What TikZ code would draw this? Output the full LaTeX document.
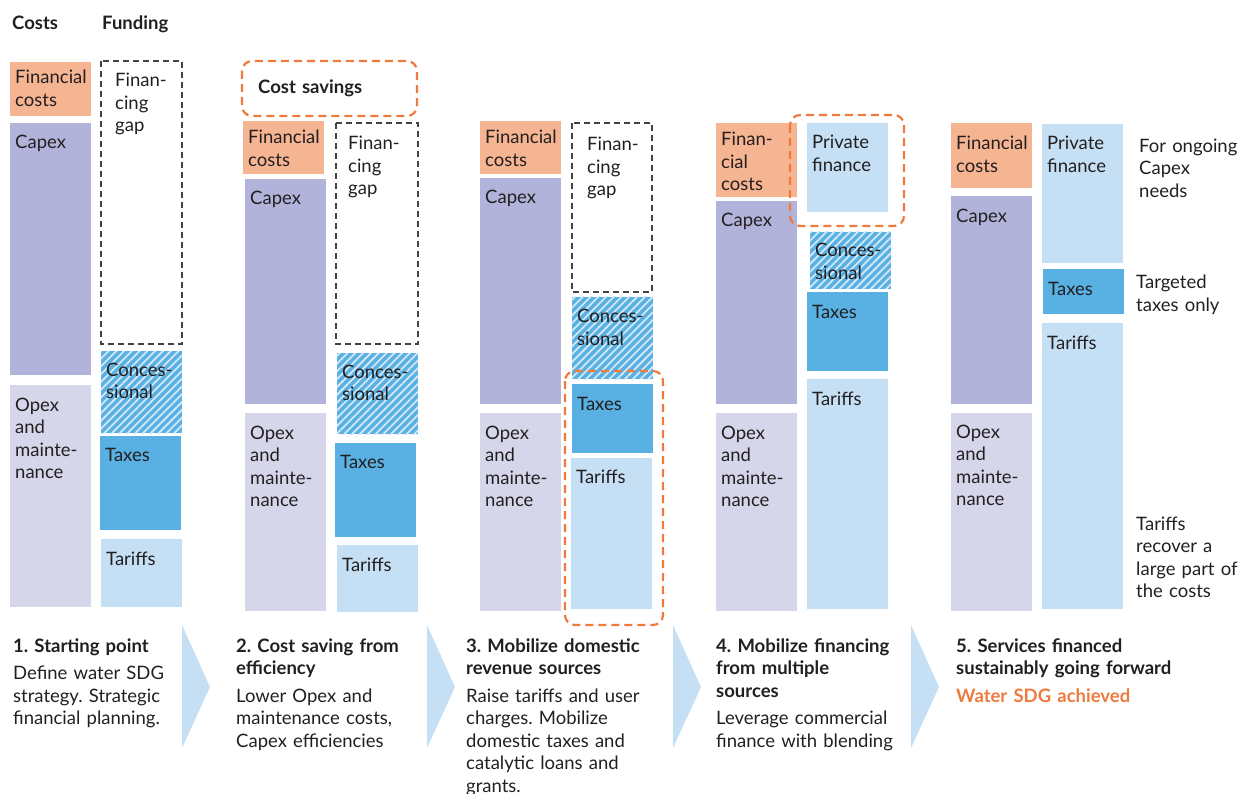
\documentclass[tikz,border=0pt]{standalone}
\usepackage{fontspec}
\setmainfont{Lato}
\usetikzlibrary{patterns.meta,positioning}
\frenchspacing

\definecolor{fincol}{HTML}{F6B592}
\definecolor{capcol}{HTML}{B1B3DA}
\definecolor{opcol}{HTML}{D6D6EB}
\definecolor{taxcol}{HTML}{58B0E3}
\definecolor{tarcol}{HTML}{C5DFF4}
\definecolor{hatchcol}{HTML}{D2E8F7}
\definecolor{savecol}{HTML}{EE7A3E}
\definecolor{inkcol}{HTML}{231F20}

\tikzset{
  lbl/.style={anchor=base west, inner sep=0pt, align=left, text width=80pt, text=inkcol,
    font=\fontsize{18.5}{22.5}\selectfont},
  note/.style={lbl, text width=120pt},
  caption/.style={lbl, text width=240pt},
  gapbox/.style={draw=inkcol!85, line width=1.6pt, dash pattern=on 6pt off 4pt},
  savebox/.style={draw=savecol, line width=2.2pt, dash pattern=on 8pt off 5pt, rounded corners=10pt},
  chevron/.style={fill=tarcol},
  conc/.style={pattern={Lines[angle=45,distance=5.5pt,line width=1.8pt]}, pattern color=hatchcol},
}

% slab: name, colour, x, top, bottom, first baseline, text
\newcommand{\slab}[7]{%
  \fill[#2] (#3,#4) rectangle (#3+81,#5);
  \node[lbl] (#1) at (#3+5,#4+#6) {#7};}
% hatched slab: name, x, top, bottom, first baseline, text
\newcommand{\concslab}[6]{%
  \fill[taxcol] (#2,#3) rectangle (#2+81,#4);
  \path[conc] (#2,#3) rectangle (#2+81,#4);
  \node[lbl] (#1) at (#2+5,#3+#5) {#6};}

\begin{document}
\begin{tikzpicture}[x=1pt,y=-1pt]
\useasboundingbox (0,0) rectangle (1242,794);

\node[lbl] (costs) at (12,29.5) {\textbf{Costs}};
\node[lbl] (funding) at (102,29.5) {\textbf{Funding}};

% 1. starting point
\slab{fin1}{fincol}{10}{62}{116}{22}{Financial\\costs}
\slab{cap1}{capcol}{10}{123}{375}{26}{Capex}
\slab{op1}{opcol}{10}{385}{607}{26}{Opex\\and\\mainte-\\nance}
\draw[gapbox] (101,61) rectangle (182,344);
\node[lbl] (gap1) at (115,87) {Finan-\\cing\\gap};
\concslab{con1}{101}{351}{433}{25}{Conces-\\sional}
\slab{tax1}{taxcol}{100}{436}{530}{25}{Taxes}
\slab{tar1}{tarcol}{101}{539}{607}{26}{Tariffs}

% 2. cost saving
\draw[savebox] (242,61) rectangle (417,116);
\node[lbl, text width=150pt] (save2) at (258,94) {\textbf{Cost savings}};
\slab{fin2}{fincol}{243}{121}{174}{23}{Financial\\costs}
\slab{cap2}{capcol}{245}{179}{404}{26}{Capex}
\slab{op2}{opcol}{245}{413}{611}{26}{Opex\\and\\mainte-\\nance}
\draw[gapbox] (336,123) rectangle (418,344);
\node[lbl] (gap2) at (348,150) {Finan-\\cing\\gap};
\concslab{con2}{337}{353}{434}{25}{Conces-\\sional}
\slab{tax2}{taxcol}{335}{443}{537}{25}{Taxes}
\slab{tar2}{tarcol}{337}{545}{612}{26}{Tariffs}

% 3. domestic revenue
\slab{fin3}{fincol}{480}{121}{174}{23}{Financial\\costs}
\slab{cap3}{capcol}{480}{178}{404}{26}{Capex}
\slab{op3}{opcol}{480}{413}{611}{26}{Opex\\and\\mainte-\\nance}
\draw[gapbox] (572,123) rectangle (652,292);
\node[lbl] (gap3) at (587,151) {Finan-\\cing\\gap};
\concslab{con3}{572}{297}{379}{26}{Conces-\\sional}
\slab{tax3}{taxcol}{572}{384}{453}{26}{Taxes}
\slab{tar3}{tarcol}{571}{458}{609}{25}{Tariffs}
\draw[savebox] (565,371) rectangle (663,625);

% 4. multiple sources
\slab{fin4}{fincol}{716}{123}{197}{23}{Finan-\\cial\\costs}
\slab{cap4}{capcol}{716}{201}{404}{26}{Capex}
\slab{op4}{opcol}{716}{413}{611}{26}{Opex\\and\\mainte-\\nance}
\slab{pf4}{tarcol}{807}{123}{212}{26}{Private\\finance}
\concslab{con4}{810}{232}{289}{25}{Conces-\\sional}
\slab{tax4}{taxcol}{807}{292}{371}{26}{Taxes}
\slab{tar4}{tarcol}{807}{379}{609}{26}{Tariffs}
\draw[savebox] (790,115) rectangle (904,226);

% 5. sustainable
\slab{fin5}{fincol}{951}{123}{188}{27}{Financial\\costs}
\slab{cap5}{capcol}{951}{196}{404}{27}{Capex}
\slab{op5}{opcol}{951}{413}{611}{25}{Opex\\and\\mainte-\\nance}
\slab{pf5}{tarcol}{1042}{124}{263}{26}{Private\\finance}
\slab{tax5}{taxcol}{1043}{269}{314}{26}{Taxes}
\slab{tar5}{tarcol}{1042}{323}{609}{26}{Tariffs}
\node[note] (note1) at (1139,152.5) {For ongoing\\Capex\\needs};
\node[note] (note2) at (1136,289) {Targeted\\taxes only};
\node[note] (note3) at (1136,530) {Tariffs\\recover a\\large part of\\the costs};

% chevrons between steps
\foreach \cx in {182,427,673,911}
  \fill[chevron] (\cx,625) -- (\cx+28,687) -- (\cx,748) -- cycle;

% step captions
\node[caption] (step1) at (13,652) {\textbf{1. Starting point}\\[5pt]
  Define water SDG\\strategy. Strategic\\financial planning.};
\node[caption] (step2) at (236,652) {\textbf{2. Cost saving from}\\\textbf{efficiency}\\[5pt]
  Lower Opex and\\maintenance costs,\\Capex efficiencies};
\node[caption] (step3) at (466,652) {\textbf{3. Mobilize domestic}\\\textbf{revenue sources}\\[5pt]
  Raise tariffs and user\\charges. Mobilize\\domestic taxes and\\catalytic loans and\\grants.};
\node[caption] (step4) at (716,652) {\textbf{4. Mobilize financing}\\\textbf{from multiple}\\\textbf{sources}\\[5pt]
  Leverage commercial\\finance with blending};
\node[caption] (step5) at (956,652) {\textbf{5. Services financed}\\\textbf{sustainably going forward}\\[5pt]
  \textcolor{savecol}{\textbf{Water SDG achieved}}};

\end{tikzpicture}
\end{document}
